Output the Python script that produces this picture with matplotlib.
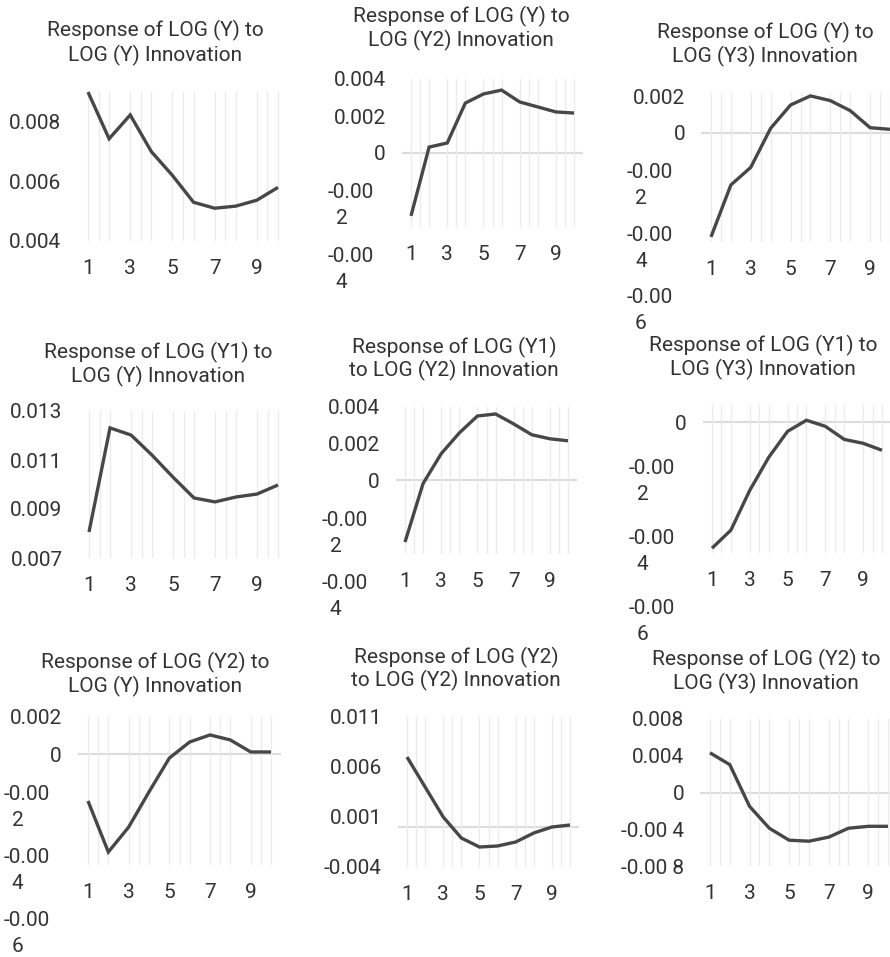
import matplotlib
matplotlib.use("Agg")
import matplotlib.pyplot as plt
import matplotlib.transforms as mtransforms

plt.rcParams['font.family'] = ['Roboto', 'DejaVu Sans']

# ---------------- data ----------------
periods = [1, 2, 3, 4, 5, 6, 7, 8, 9, 10]
xtick_values = [1, 3, 5, 7, 9]
xtick_labels = ['1', '3', '5', '7', '9']

titles = [
    ["Response of LOG (Y) to", "LOG (Y) Innovation"],
    ["Response of LOG (Y) to", "LOG (Y2) Innovation"],
    ["Response of LOG (Y) to", "LOG (Y3) Innovation"],
    ["Response of LOG (Y1) to", "LOG (Y) Innovation"],
    ["Response of LOG (Y1)", "to LOG (Y2) Innovation"],
    ["Response of LOG (Y1) to", "LOG (Y3) Innovation"],
    ["Response of LOG (Y2) to", "LOG (Y) Innovation"],
    ["Response of LOG (Y2)", "to LOG (Y2) Innovation"],
    ["Response of LOG (Y2) to", "LOG (Y3) Innovation"],
]

resp_y_to_y = [0.0090, 0.00743, 0.00823, 0.0070, 0.0062, 0.0053, 0.0051, 0.00517, 0.00537, 0.0058]
resp_y_to_y2 = [-0.0034, 0.00032, 0.00054, 0.0027, 0.00319, 0.0034, 0.00276, 0.00249, 0.00222, 0.00216]
resp_y_to_y3 = [-0.00572, -0.00286, -0.00189, 0.00026, 0.00154, 0.00204, 0.00178, 0.00123, 0.00029, 0.0002]
resp_y1_to_y = [0.00806, 0.01231, 0.01202, 0.0112, 0.0103, 0.00945, 0.00929, 0.00949, 0.00961, 0.00998]
resp_y1_to_y2 = [-0.00335, -0.00016, 0.00146, 0.00259, 0.00351, 0.00362, 0.00308, 0.00249, 0.00227, 0.00216]
resp_y1_to_y3 = [-0.00578, -0.00495, -0.00312, -0.00161, -0.00041, 0.0001, -0.00018, -0.00078, -0.00096, -0.00128]
resp_y2_to_y = [-0.00254, -0.0053, -0.00395, -0.00205, -0.00022, 0.00065, 0.00103, 0.00076, 0.00011, 0.00011]
resp_y2_to_y2 = [0.0070, 0.0040, 0.0010, -0.0011, -0.0020, -0.0019, -0.0015, -0.0006, 0.0000, 0.0002]
resp_y2_to_y3 = [0.00432, 0.00303, -0.00151, -0.00389, -0.00519, -0.0053, -0.00486, -0.00389, -0.00368, -0.00368]

series = [resp_y_to_y, resp_y_to_y2, resp_y_to_y3,
          resp_y1_to_y, resp_y1_to_y2, resp_y1_to_y3,
          resp_y2_to_y, resp_y2_to_y2, resp_y2_to_y3]

ylims = [(0.004, 0.009), (-0.004, 0.004), (-0.006, 0.0022),
         (0.007, 0.013), (-0.004, 0.004), (-0.006, 0.0008),
         (-0.006, 0.002), (-0.004, 0.011), (-0.008, 0.008)]

ytick_values = [
    [0.004, 0.006, 0.008],
    [-0.004, -0.002, 0, 0.002, 0.004],
    [-0.006, -0.004, -0.002, 0, 0.002],
    [0.007, 0.009, 0.011, 0.013],
    [-0.004, -0.002, 0, 0.002, 0.004],
    [-0.006, -0.004, -0.002, 0],
    [-0.006, -0.004, -0.002, 0, 0.002],
    [-0.004, 0.001, 0.006, 0.011],
    [-0.008, -0.004, 0, 0.004, 0.008],
]
ytick_labels = [
    ['0.004', '0.006', '0.008'],
    ['-0.00\n4', '-0.00\n2', '0', '0.002', '0.004'],
    ['-0.00\n6', '-0.00\n4', '-0.00\n2', '0', '0.002'],
    ['0.007', '0.009', '0.011', '0.013'],
    ['-0.00\n4', '-0.00\n2', '0', '0.002', '0.004'],
    ['-0.00\n6', '-0.00\n4', '-0.00\n2', '0'],
    ['-0.00\n6', '-0.00\n4', '-0.00\n2', '0', '0.002'],
    ['-0.004', '0.001', '0.006', '0.011'],
    ['-0.00 8', '-0.00 4', '0', '0.004', '0.008'],
]

# ---------------- layout (pixels) ----------------
W, H, DPI = 890, 957, 100
# x of period 1, x of period 10, top, bottom of plot area
boxes = [(88, 278, 92, 241), (411, 574, 79, 227), (711, 890, 93, 242),
         (89, 278, 411, 558), (405, 568, 407, 554), (712, 882, 405, 553),
         (88, 271, 717, 865), (407, 570, 717, 867), (710, 888, 719, 866)]
title_pos = [(155, 28, 53), (461, 14, 38), (765, 30, 54),
             (158, 350, 374), (454, 345, 368), (763, 343, 367),
             (155, 660, 684), (456, 655, 678), (766, 657, 681)]
grid_minor = [1.5, 2, 3.5, 4, 5.5, 6, 7.5, 8, 9.5, 10]

TEXT = '#333333'
LINE = '#474747'
GRID = '#ebebeb'
ZERO = '#dcdcdc'
FS = 15

fig = plt.figure(figsize=(W / DPI, H / DPI), dpi=DPI)
fig.patch.set_facecolor('white')

for i in range(9):
    x1, x10, top, bot = boxes[i]
    u = (x10 - x1) / 9.0
    left = x1 - 0.5 * u
    right = x10 + 0.5 * u
    ax = fig.add_axes([left / W, 1 - bot / H, (right - left) / W, (bot - top) / H])
    lo, hi = ylims[i]
    ax.set_xlim(0.5, 10.5)
    ax.set_ylim(lo, hi)
    for s in ax.spines.values():
        s.set_visible(False)
    ax.set_facecolor('none')

    ax.set_xticks(xtick_values, labels=xtick_labels)
    ax.set_xticks(grid_minor, minor=True)
    ax.grid(True, axis='x', which='both', color=GRID, lw=1.0, zorder=0)
    ax.tick_params(axis='x', which='both', length=0, pad=13, labelsize=FS, labelcolor=TEXT)

    if lo < 0 < hi:
        ax.axhline(0, color=ZERO, lw=1.5, zorder=1)

    vals = ytick_values[i]
    labs = ytick_labels[i]
    ax.set_yticks(vals, labels=[l if '\n' not in l else '' for l in labs])
    ax.tick_params(axis='y', length=0, pad=11.5, labelsize=FS, labelcolor=TEXT)

    # wrapped labels, stacked downward from the highest one
    ytr = ax.get_yaxis_transform()
    wrapped = [(v, l) for v, l in zip(vals, labs) if '\n' in l]
    wrapped.sort(key=lambda t: -t[0])
    for k, (v, l) in enumerate(wrapped):
        first, second = l.split('\n')
        dy = 1 + k * 26.5
        t1 = ytr + mtransforms.ScaledTranslation(-28 / DPI, -dy / DPI, fig.dpi_scale_trans)
        t2 = ytr + mtransforms.ScaledTranslation(-66 / DPI, -(dy + 26) / DPI, fig.dpi_scale_trans)
        ax.text(0, v, first, transform=t1, ha='right', va='center_baseline',
                fontsize=FS, color=TEXT, clip_on=False)
        ax.text(0, v, second, transform=t2, ha='left', va='center_baseline',
                fontsize=FS, color=TEXT, clip_on=False)

    ax.plot(periods, series[i], color=LINE, lw=2.4, solid_joinstyle='miter',
            solid_capstyle='butt', zorder=3, clip_on=False)

    cx, l1, l2 = title_pos[i]
    fig.text(cx / W, 1 - l1 / H, titles[i][0], ha='center', va='center_baseline',
             fontsize=FS, color=TEXT)
    fig.text(cx / W, 1 - l2 / H, titles[i][1], ha='center', va='center_baseline',
             fontsize=FS, color=TEXT)

fig.savefig('out.png', dpi=DPI, facecolor='white')
